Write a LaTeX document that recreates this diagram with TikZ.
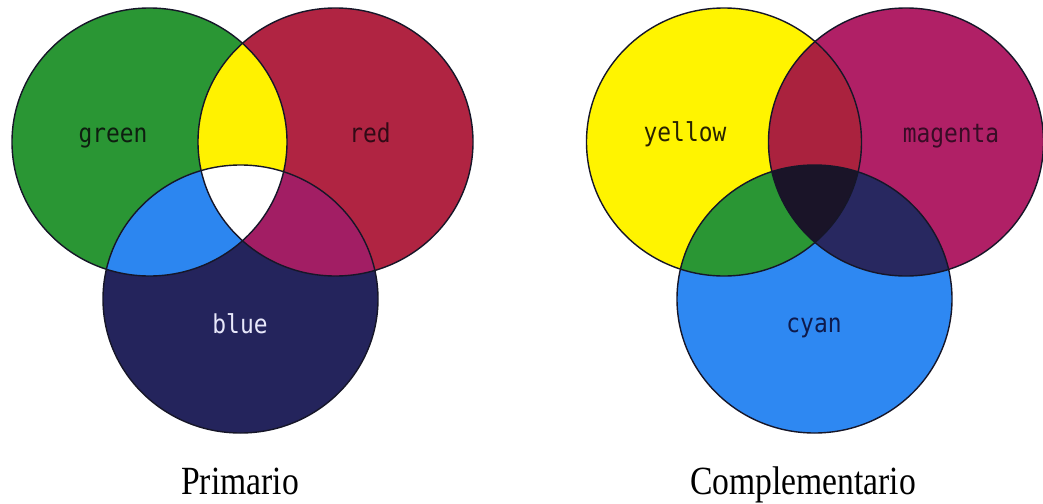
\documentclass[tikz,border=0pt]{standalone}
\usepackage{fontspec}
\newfontfamily\labelfont[FakeStretch=0.88]{DejaVu Sans Mono}
\newfontfamily\captionfont[FakeStretch=0.84]{Liberation Serif}
% additive (light) mixing
\definecolor{lgreen}{RGB}{42,150,52}
\definecolor{lred}{RGB}{176,36,66}
\definecolor{lblue}{RGB}{36,36,92}
\definecolor{lyellow}{RGB}{255,242,0}
\definecolor{lcyan}{RGB}{44,134,240}
\definecolor{lmagenta}{RGB}{162,30,100}
% subtractive (pigment) mixing
\definecolor{pyellow}{RGB}{255,244,0}
\definecolor{pmagenta}{RGB}{176,32,102}
\definecolor{pcyan}{RGB}{46,136,242}
\definecolor{pred}{RGB}{170,34,62}
\definecolor{pgreen}{RGB}{42,150,52}
\definecolor{pnavy}{RGB}{40,40,96}
\definecolor{pblack}{RGB}{26,20,40}
\definecolor{rim}{RGB}{22,22,40}
\begin{document}
\begin{tikzpicture}[x=0.5pt,y=-0.5pt,
  rad/.style={x radius=68.75pt,y radius=67pt},
  rimline/.style={draw=rim,line width=0.7pt},
  lbl/.style={font=\labelfont\fontsize{13}{15}\selectfont,inner sep=0pt,anchor=base},
  captext/.style={font=\captionfont\fontsize{20}{24}\selectfont,inner sep=0pt,anchor=base}]
\useasboundingbox (0,0) rectangle (1043,503);
\fill[white] (0,0) rectangle (1043,503);

% ---- Primario: green, red, blue ----
\fill[lgreen] (149.5,142) ellipse [rad];
\fill[lred]   (335.5,142) ellipse [rad];
\fill[lblue]  (240.5,299) ellipse [rad];
\begin{scope}
  \clip (149.5,142) ellipse [rad];
  \fill[lyellow] (335.5,142) ellipse [rad];
  \fill[lcyan] (240.5,299) ellipse [rad];
\end{scope}
\begin{scope}
  \clip (335.5,142) ellipse [rad];
  \fill[lmagenta] (240.5,299) ellipse [rad];
\end{scope}
\begin{scope}
  \clip (149.5,142) ellipse [rad];
  \clip (335.5,142) ellipse [rad];
  \fill[white] (240.5,299) ellipse [rad];
\end{scope}
\draw[rimline] (149.5,142) ellipse [rad];
\draw[rimline] (335.5,142) ellipse [rad];
\draw[rimline] (240.5,299) ellipse [rad];

\node[lbl,text={rgb,255:red,14;green,30;blue,16}] (tgreen) at (113,142) {green};
\node[lbl,text={rgb,255:red,50;green,10;blue,22}] (tred) at (370,142) {red};
\node[lbl,text={rgb,255:red,232;green,232;blue,250}] (tblue) at (240,333) {blue};

% ---- Complementario: yellow, magenta, cyan ----
\fill[pyellow]  (724,142) ellipse [rad];
\fill[pmagenta] (906,142) ellipse [rad];
\fill[pcyan]    (814.5,299) ellipse [rad];
\begin{scope}
  \clip (724,142) ellipse [rad];
  \fill[pred] (906,142) ellipse [rad];
  \fill[pgreen] (814.5,299) ellipse [rad];
\end{scope}
\begin{scope}
  \clip (906,142) ellipse [rad];
  \fill[pnavy] (814.5,299) ellipse [rad];
\end{scope}
\begin{scope}
  \clip (724,142) ellipse [rad];
  \clip (906,142) ellipse [rad];
  \fill[pblack] (814.5,299) ellipse [rad];
\end{scope}
\draw[rimline] (724,142) ellipse [rad];
\draw[rimline] (906,142) ellipse [rad];
\draw[rimline] (814.5,299) ellipse [rad];

\node[lbl,text={rgb,255:red,40;green,34;blue,0}] (tyellow) at (685,141) {yellow};
\node[lbl,text={rgb,255:red,56;green,12;blue,38}] (tmagenta) at (951,142) {magenta};
\node[lbl,text={rgb,255:red,14;green,26;blue,76}] (tcyan) at (814,332) {cyan};

% ---- captions ----
\node[captext] (cprim) at (240,494) {Primario};
\node[captext] (ccomp) at (803,494) {Complementario};
\end{tikzpicture}
\end{document}
